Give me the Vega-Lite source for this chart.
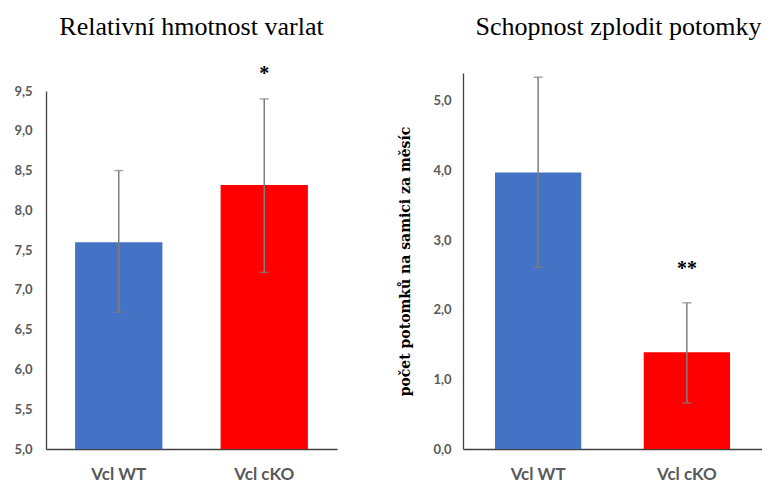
{
  "$schema": "https://vega.github.io/schema/vega-lite/v6.json",
  "padding": {"left": 13, "top": 14, "right": 0, "bottom": 0},
  "background": "white",
  "spacing": 126,
  "bounds": "flush",
  "datasets": {
    "weight": [
      {"group": "Vcl WT", "mean": 7.6, "lo": 6.72, "hi": 8.5, "sig": ""},
      {"group": "Vcl cKO", "mean": 8.32, "lo": 7.22, "hi": 9.4, "sig": "*", "sigpos": 9.71}
    ],
    "fert": [
      {"group": "Vcl WT", "mean": 3.97, "lo": 2.61, "hi": 5.34, "sig": ""},
      {"group": "Vcl cKO", "mean": 1.39, "lo": 0.66, "hi": 2.1, "sig": "**", "sigpos": 2.59}
    ]
  },
  "config": {
    "view": {"stroke": null},
    "axis": {
      "grid": false,
      "ticks": false,
      "domainColor": "#404040",
      "domainWidth": 1.3,
      "labelColor": "#595959",
      "labelFont": "Lato",
      "labelFontWeight": "bold",
      "labelFontSize": 13,
      "labelOverlap": false,
      "labelBound": false
    },
    "title": {"font": "Liberation Serif", "fontSize": 26, "fontWeight": "normal", "color": "#000000"}
  },
  "hconcat": [
    {
      "width": 291,
      "height": 376,
      "title": {"text": "Relativní hmotnost varlat", "offset": 24},
      "data": {"name": "weight"},
      "encoding": {
        "x": {
          "field": "group", "type": "nominal", "sort": null,
          "scale": {"paddingInner": 0.4, "paddingOuter": 0.2},
          "axis": {"title": null, "labelAngle": 0, "labelFontSize": 17, "labelPadding": 17}
        }
      },
      "layer": [
        {
          "mark": {"type": "bar"},
          "encoding": {
            "y": {
              "field": "mean", "type": "quantitative", "title": null,
              "scale": {"domain": [5, 9.5], "range": [376, 18], "nice": false, "zero": false},
              "axis": {"title": null, "values": [5, 5.5, 6, 6.5, 7, 7.5, 8, 8.5, 9, 9.5], "labelPadding": 14,
                       "labelExpr": "replace(format(datum.value, '.1f'), '.', ',')"}
            },
            "y2": {"datum": 5},
            "color": {"field": "group", "type": "nominal", "scale": {"domain": ["Vcl WT", "Vcl cKO"], "range": ["#4472C4", "#FF0000"]}, "legend": null}
          }
        },
        {
          "mark": {"type": "errorbar", "ticks": {"size": 9}, "color": "#7f7f7f", "thickness": 1.5},
          "encoding": {
            "y": {"field": "lo", "type": "quantitative", "title": null},
            "y2": {"field": "hi"}
          }
        },
        {
          "mark": {"type": "text", "fontSize": 20, "fontWeight": "bold", "font": "Liberation Serif", "baseline": "middle", "color": "#000000"},
          "encoding": {
            "y": {"field": "sigpos", "type": "quantitative", "title": null},
            "text": {"field": "sig"}
          }
        }
      ]
    },
    {
      "width": 299,
      "height": 376,
      "title": {"text": "Schopnost zplodit potomky", "offset": 33, "dx": 6},
      "data": {"name": "fert"},
      "encoding": {
        "x": {
          "field": "group", "type": "nominal", "sort": null,
          "scale": {"paddingInner": 0.42, "paddingOuter": 0.215},
          "axis": {"title": null, "labelAngle": 0, "labelFontSize": 17, "labelPadding": 17}
        }
      },
      "layer": [
        {
          "mark": {"type": "bar"},
          "encoding": {
            "y": {
              "field": "mean", "type": "quantitative", "title": "počet potomků na samici za měsíc",
              "scale": {"domain": [0, 5.4], "nice": false},
              "axis": {"title": "počet potomků na samici za měsíc", "titleFont": "DejaVu Serif", "titleFontSize": 14, "titleFontWeight": "bold", "titleColor": "#000000", "titlePadding": 20,
                       "values": [0, 1, 2, 3, 4, 5], "labelPadding": 12,
                       "labelExpr": "replace(format(datum.value, '.1f'), '.', ',')"}
            },
            "color": {"field": "group", "type": "nominal", "scale": {"domain": ["Vcl WT", "Vcl cKO"], "range": ["#4472C4", "#FF0000"]}, "legend": null}
          }
        },
        {
          "mark": {"type": "errorbar", "ticks": {"size": 9}, "color": "#7f7f7f", "thickness": 1.5},
          "encoding": {
            "y": {"field": "lo", "type": "quantitative", "title": "počet potomků na samici za měsíc"},
            "y2": {"field": "hi"}
          }
        },
        {
          "mark": {"type": "text", "fontSize": 20, "fontWeight": "bold", "font": "Liberation Serif", "baseline": "middle", "color": "#000000"},
          "encoding": {
            "y": {"field": "sigpos", "type": "quantitative", "title": "počet potomků na samici za měsíc"},
            "text": {"field": "sig"}
          }
        }
      ]
    }
  ]
}
